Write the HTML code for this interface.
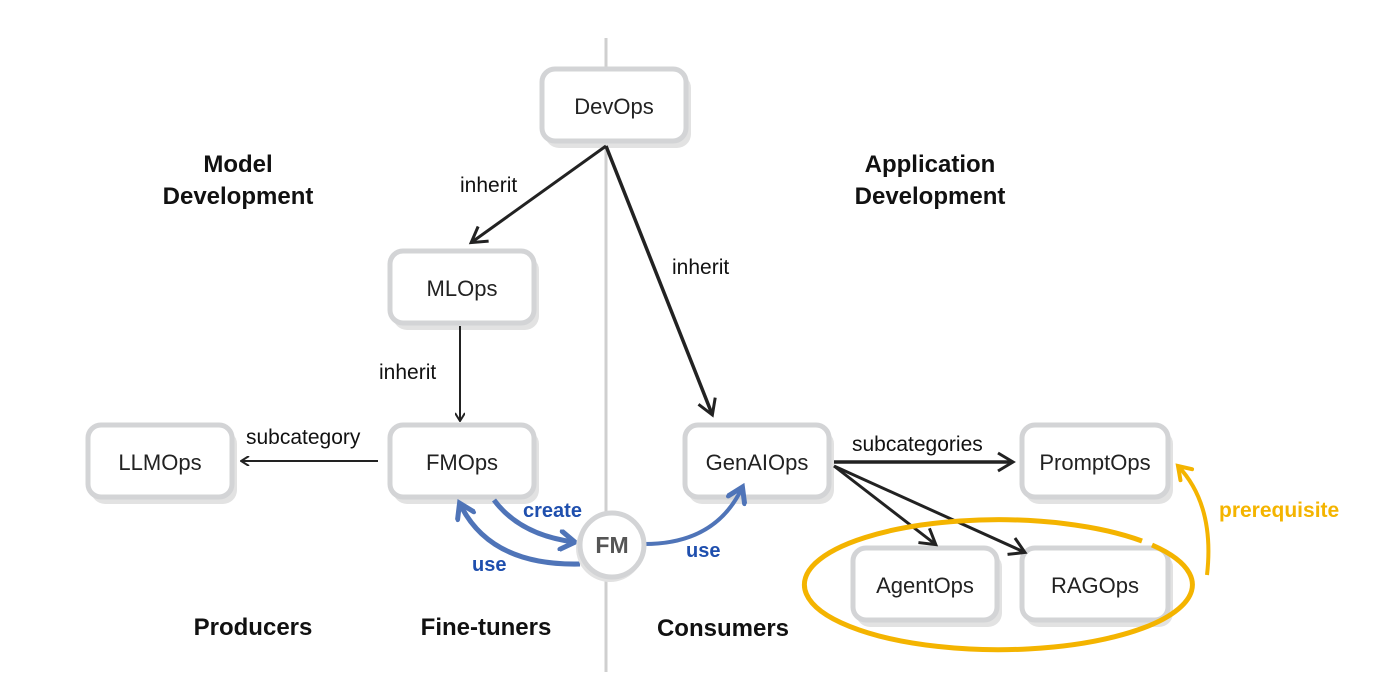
<!DOCTYPE html>
<html><head><meta charset="utf-8"><style>
html,body{margin:0;padding:0;background:#fff;}
svg{display:block;}
text{font-family:"Liberation Sans",sans-serif;}
</style></head><body>
<svg width="1400" height="686" viewBox="0 0 1400 686" xmlns="http://www.w3.org/2000/svg">
<defs>
<marker id="ak" markerWidth="10" markerHeight="10" refX="8" refY="5" orient="auto" markerUnits="userSpaceOnUse" viewBox="0 0 10 10"><path d="M1,0 L9,5 L1,10" fill="none" stroke="#222" stroke-width="2"/></marker>
<marker id="ab" markerWidth="22" markerHeight="22" refX="16" refY="11" orient="auto" markerUnits="userSpaceOnUse"><path d="M3,2 L17,11 L3,20" fill="none" stroke="#4f74b8" stroke-width="5" stroke-linecap="round"/></marker>
<marker id="ay" markerWidth="22" markerHeight="22" refX="16" refY="11" orient="auto" markerUnits="userSpaceOnUse"><path d="M4,3 L16,11 L4,19" fill="none" stroke="#f4b400" stroke-width="4" stroke-linecap="round"/></marker>
<marker id="ak2" markerWidth="24" markerHeight="24" refX="17" refY="12" orient="auto" markerUnits="userSpaceOnUse"><path d="M3,3 L18,12 L3,21" fill="none" stroke="#222" stroke-width="3"/></marker>
</defs>
<line x1="606" y1="38" x2="606" y2="672" stroke="#cfcfcf" stroke-width="3"/>
<g>
<rect x="545" y="74" width="146" height="74" rx="14" fill="#e2e2e2"/>
<rect x="542" y="69" width="144" height="72" rx="13" fill="#fff" stroke="#d3d4d6" stroke-width="5"/>
<text x="614" y="114" font-size="22" text-anchor="middle" fill="#222">DevOps</text>
</g>
<g>
<rect x="393" y="256" width="146" height="74" rx="14" fill="#e2e2e2"/>
<rect x="390" y="251" width="144" height="72" rx="13" fill="#fff" stroke="#d3d4d6" stroke-width="5"/>
<text x="462" y="296" font-size="22" text-anchor="middle" fill="#222">MLOps</text>
</g>
<g>
<rect x="91" y="430" width="146" height="74" rx="14" fill="#e2e2e2"/>
<rect x="88" y="425" width="144" height="72" rx="13" fill="#fff" stroke="#d3d4d6" stroke-width="5"/>
<text x="160" y="470" font-size="22" text-anchor="middle" fill="#222">LLMOps</text>
</g>
<g>
<rect x="393" y="430" width="146" height="74" rx="14" fill="#e2e2e2"/>
<rect x="390" y="425" width="144" height="72" rx="13" fill="#fff" stroke="#d3d4d6" stroke-width="5"/>
<text x="462" y="470" font-size="22" text-anchor="middle" fill="#222">FMOps</text>
</g>
<g>
<rect x="688" y="430" width="146" height="74" rx="14" fill="#e2e2e2"/>
<rect x="685" y="425" width="144" height="72" rx="13" fill="#fff" stroke="#d3d4d6" stroke-width="5"/>
<text x="757" y="470" font-size="22" text-anchor="middle" fill="#222">GenAIOps</text>
</g>
<g>
<rect x="1025" y="430" width="148" height="74" rx="14" fill="#e2e2e2"/>
<rect x="1022" y="425" width="146" height="72" rx="13" fill="#fff" stroke="#d3d4d6" stroke-width="5"/>
<text x="1095" y="470" font-size="22" text-anchor="middle" fill="#222">PromptOps</text>
</g>
<g>
<rect x="856" y="553" width="146" height="74" rx="14" fill="#e2e2e2"/>
<rect x="853" y="548" width="144" height="72" rx="13" fill="#fff" stroke="#d3d4d6" stroke-width="5"/>
<text x="925" y="593" font-size="22" text-anchor="middle" fill="#222">AgentOps</text>
</g>
<g>
<rect x="1025" y="553" width="148" height="74" rx="14" fill="#e2e2e2"/>
<rect x="1022" y="548" width="146" height="72" rx="13" fill="#fff" stroke="#d3d4d6" stroke-width="5"/>
<text x="1095" y="593" font-size="22" text-anchor="middle" fill="#222">RAGOps</text>
</g>
<path d="M606,146 L472,242" stroke="#222" stroke-width="3" fill="none" marker-end="url(#ak2)"/>
<path d="M606,146 L712,414" stroke="#222" stroke-width="3.5" fill="none" marker-end="url(#ak2)"/>
<path d="M460,326 L460,420" stroke="#222" stroke-width="2" fill="none" marker-end="url(#ak)"/>
<path d="M378,461 L242,461" stroke="#222" stroke-width="2" fill="none" marker-end="url(#ak)"/>
<path d="M834,462 L1012,462" stroke="#222" stroke-width="3.5" fill="none" marker-end="url(#ak2)"/>
<path d="M834,466 L935,544" stroke="#222" stroke-width="3" fill="none" marker-end="url(#ak2)"/>
<path d="M834,466 L1024,552" stroke="#222" stroke-width="3" fill="none" marker-end="url(#ak2)"/>
<text x="460" y="192" font-size="21" fill="#111">inherit</text>
<text x="672" y="274" font-size="21" fill="#111">inherit</text>
<text x="379" y="379" font-size="21" fill="#111">inherit</text>
<text x="246" y="444" font-size="21" fill="#111">subcategory</text>
<text x="852" y="451" font-size="21" fill="#111">subcategories</text>
<path d="M494,500 Q520,535 574,542" stroke="#4f74b8" stroke-width="5" fill="none" marker-end="url(#ab)"/>
<path d="M580,564 Q490,566 460,504" stroke="#4f74b8" stroke-width="5" fill="none" marker-end="url(#ab)"/>
<path d="M642,544 Q715,545 742,488" stroke="#4f74b8" stroke-width="4" fill="none" marker-end="url(#ab)"/>
<circle cx="610" cy="548" r="34" fill="#e2e2e2"/>
<circle cx="612" cy="545" r="32" fill="#fff" stroke="#d3d4d6" stroke-width="5"/>
<text x="612" y="553" font-size="23" font-weight="bold" text-anchor="middle" fill="#555">FM</text>
<text x="523" y="517" font-size="20" font-weight="bold" fill="#1f4fae">create</text>
<text x="472" y="571" font-size="20" font-weight="bold" fill="#1f4fae">use</text>
<text x="686" y="557" font-size="20" font-weight="bold" fill="#1f4fae">use</text>
<path d="M1142,541 A194,65 0 1 0 1152,545" stroke="#f4b400" stroke-width="5" fill="none"/>
<path d="M1207,575 Q1215,505 1178,466" stroke="#f4b400" stroke-width="4" fill="none" marker-end="url(#ay)"/>
<text x="1219" y="517" font-size="21" font-weight="bold" fill="#f4b400">prerequisite</text>
<g font-size="24" font-weight="bold" fill="#111" text-anchor="middle">
<text x="238" y="172">Model</text>
<text x="238" y="204">Development</text>
<text x="930" y="172">Application</text>
<text x="930" y="204">Development</text>
<text x="253" y="635">Producers</text>
<text x="486" y="635">Fine-tuners</text>
<text x="723" y="636">Consumers</text>
</g>
</svg>
</body></html>
